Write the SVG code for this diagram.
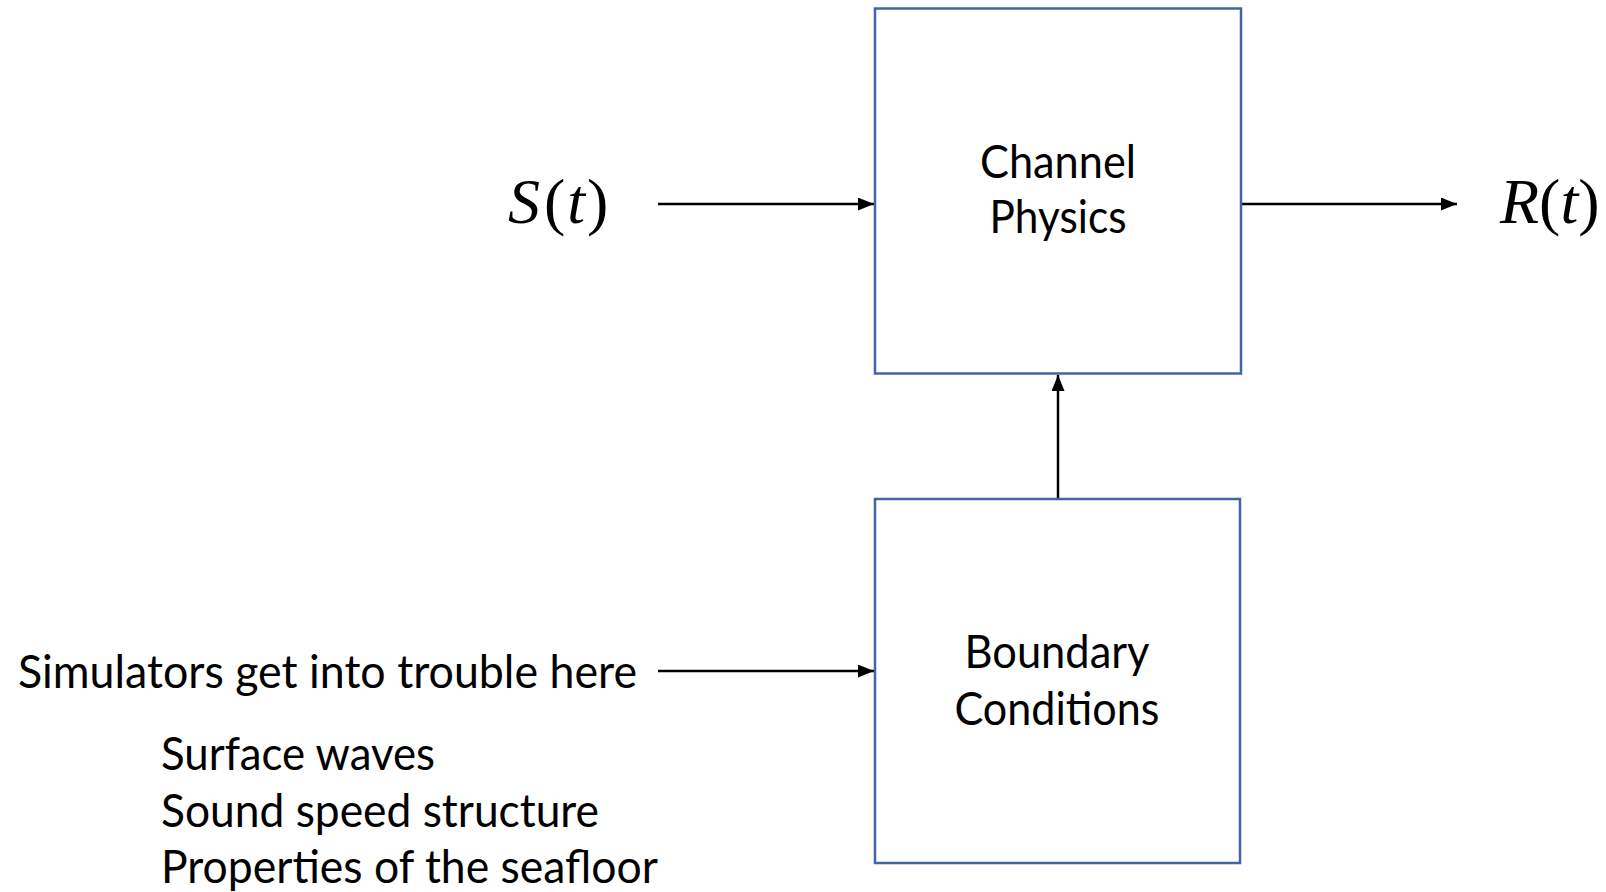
<svg xmlns="http://www.w3.org/2000/svg" width="1606" height="892" viewBox="0 0 1606 892">
  <style>
    .box { fill: #ffffff; stroke: #3f65a3; stroke-width: 2.5; }
    .lbl { font-family: Lato, "Open Sans", "Liberation Sans", sans-serif; font-size: 46px; fill: #000; }
    .math { font-family: "Liberation Serif", "Times New Roman", serif; font-size: 64px; fill: #000; }
    .wire { stroke: #000; stroke-width: 2.5; fill: none; }
  </style>
  <defs>
    <marker id="arrow" viewBox="0 0 16 13" refX="16" refY="6.5" markerWidth="16" markerHeight="13" markerUnits="userSpaceOnUse" orient="auto">
      <path d="M0,0 L16,6.5 L0,13 Z" fill="#000"/>
    </marker>
  </defs>

  <!-- connectors -->
  <g id="connectors">
    <line class="wire" x1="658" y1="204" x2="874" y2="204" marker-end="url(#arrow)"/>
    <line class="wire" x1="1241" y1="204" x2="1457" y2="204" marker-end="url(#arrow)"/>
    <line class="wire" x1="1058" y1="499" x2="1058" y2="375" marker-end="url(#arrow)"/>
    <line class="wire" x1="658" y1="671" x2="874" y2="671" marker-end="url(#arrow)"/>
  </g>

  <!-- main processing block -->
  <g id="channel-physics">
    <rect class="box" x="875" y="8.5" width="366" height="365"/>
    <text class="lbl" x="1058" y="178" text-anchor="middle" textLength="156" lengthAdjust="spacingAndGlyphs">Channel</text>
    <text class="lbl" x="1058" y="233" text-anchor="middle" textLength="137" lengthAdjust="spacingAndGlyphs">Physics</text>
  </g>

  <!-- boundary block feeding the channel -->
  <g id="boundary-conditions">
    <rect class="box" x="875" y="499" width="365" height="364"/>
    <text class="lbl" x="1057" y="668" text-anchor="middle" textLength="185" lengthAdjust="spacingAndGlyphs">Boundary</text>
    <text class="lbl" x="1057" y="725" text-anchor="middle" textLength="205" lengthAdjust="spacingAndGlyphs">Conditions</text>
  </g>

  <!-- input signal -->
  <g id="input-signal">
    <text class="math" x="508" y="223"><tspan font-style="italic">S</tspan><tspan dx="4">(</tspan><tspan dx="2" font-style="italic">t</tspan><tspan dx="2">)</tspan></text>
  </g>

  <!-- received signal -->
  <g id="output-signal">
    <text class="math" x="1500" y="223" font-size="62"><tspan font-style="italic">R</tspan>(<tspan font-style="italic">t</tspan>)</text>
  </g>

  <!-- boundary inputs -->
  <g id="boundary-notes">
    <text class="lbl" x="18" y="688" textLength="619" lengthAdjust="spacingAndGlyphs">Simulators get into trouble here</text>
    <text class="lbl" x="161" y="770" textLength="274" lengthAdjust="spacingAndGlyphs">Surface waves</text>
    <text class="lbl" x="161" y="827" textLength="438" lengthAdjust="spacingAndGlyphs">Sound speed structure</text>
    <text class="lbl" x="161" y="883" textLength="497" lengthAdjust="spacingAndGlyphs">Properties of the seafloor</text>
  </g>
</svg>
